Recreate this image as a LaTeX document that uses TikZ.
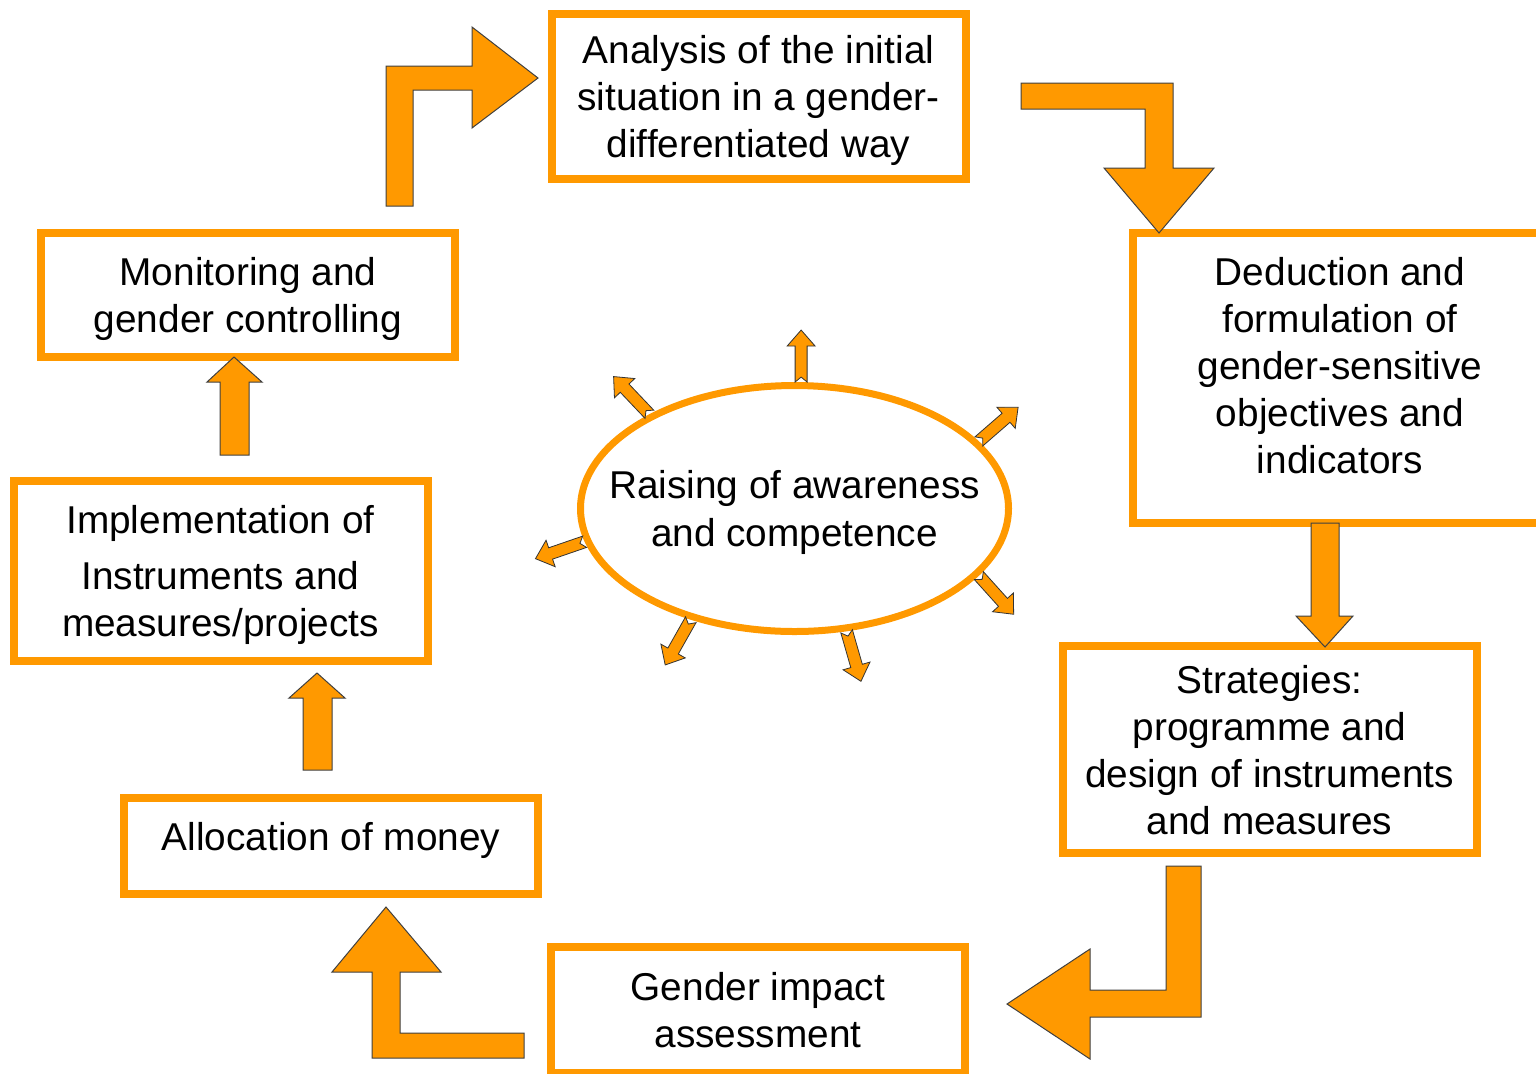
\documentclass[tikz,border=0pt]{standalone}
\usepackage{fontspec}
\setmainfont{Liberation Sans}
\usetikzlibrary{positioning,shapes.geometric}
\definecolor{boxorange}{HTML}{FF9900}

\newcommand{\rayarrow}[2]{%
	\draw[rayarrow,shift={(aw.#1)},rotate=#2]
	(0,-6) -- (36,-6) -- (36,-14) -- (52,0) -- (36,14) -- (36,6) -- (0,6) -- (5,0) -- cycle;}

\begin{document}
\begin{tikzpicture}[x=0.5pt,y=-0.5pt,
	stage/.style={draw=boxorange,line width=4pt,rectangle,inner sep=0pt,text depth=0pt,
		minimum width=207pt,align=center,font=\fontsize{19.4}{23.5}\selectfont},
	blockarrow/.style={fill=boxorange,draw=black!75,line width=0.5pt,line join=miter},
	rayarrow/.style={fill=boxorange,draw=black!80,line width=0.4pt}]
	\useasboundingbox (0,0) rectangle (1536,1073);

	\node[stage,minimum height=82.5pt] (ana) at (758.5,96.5) {Analysis of the initial\\situation in a gender-\\differentiated way};
	\node[stage,minimum height=145pt,text depth=13pt] (ded) at (1340,378) {Deduction and\\formulation of\\gender-sensitive\\objectives and\\indicators};
	\node[stage,minimum height=103.5pt,text depth=-5pt] (str) at (1269.5,749.5) {Strategies:\\programme and\\design of instruments\\and measures};
	\node[stage,minimum height=63pt] (gia) at (758,1010) {Gender impact\\assessment};
	\node[stage,minimum height=48pt,text depth=10pt] (alc) at (331,846) {Allocation of money};
	\node[stage,minimum height=90pt] (imp) at (220.5,571) {Implementation of\\[4.5pt]Instruments and\\measures/projects};
	\node[stage,minimum height=62pt] (mon) at (248,295) {Monitoring and\\gender controlling};

	\node[ellipse,draw=boxorange,line width=3.5pt,inner xsep=-20pt,inner ysep=0pt,text depth=0pt,
		minimum width=214pt,minimum height=123pt,
		align=center,font=\fontsize{19.4}{24}\selectfont] (aw) at (794.5,508.5) {Raising of awareness\\and competence};

	\draw[blockarrow] (386,206) -- (386,66) -- (472,66) -- (472,27) -- (538,78) -- (472,128) -- (472,90) -- (413,90) -- (413,206) -- cycle;
	\draw[blockarrow] (1021,83) -- (1173,83) -- (1173,168) -- (1214,168) -- (1159,233) -- (1104,168) -- (1145,168) -- (1145,109) -- (1021,109) -- cycle;
	\draw[blockarrow] (1311,523) -- (1339,523) -- (1339,616) -- (1353,616) -- (1325,647) -- (1296,616) -- (1311,616) -- cycle;
	\draw[blockarrow] (1166,866) -- (1201,866) -- (1201,1017) -- (1090,1017) -- (1090,1059) -- (1007,1004) -- (1090,949) -- (1090,990) -- (1166,990) -- cycle;
	\draw[blockarrow] (524,1058) -- (372,1058) -- (372,972) -- (332,972) -- (386,907) -- (441,972) -- (400,972) -- (400,1033) -- (524,1033) -- cycle;
	\draw[blockarrow] (303,770) -- (303,698) -- (289,698) -- (317,673) -- (345,698) -- (332,698) -- (332,770) -- cycle;
	\draw[blockarrow] (220,455) -- (220,382) -- (207,382) -- (234,357) -- (262,382) -- (249,382) -- (249,455) -- cycle;

	\rayarrow{87.5}{90}
	\rayarrow{147}{133.5}
	\rayarrow{20}{41}
	\rayarrow{189}{199}
	\rayarrow{227}{240.5}
	\rayarrow{293}{286}
	\rayarrow{340.5}{312}
\end{tikzpicture}
\end{document}
